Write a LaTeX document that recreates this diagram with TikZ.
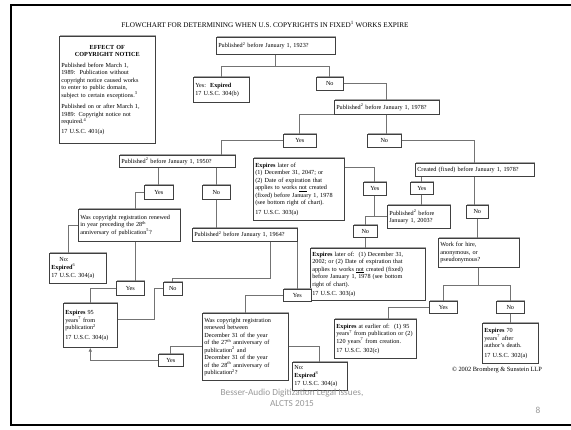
\documentclass[tikz,border=0pt]{standalone}
\usepackage{fontspec}
\setmainfont{Liberation Serif}
\newfontfamily\slidefont{Carlito}
\usepackage{tikz}
\usetikzlibrary{arrows.meta,calc,shadows}
\setlength{\parindent}{0pt}

\begin{document}
\begin{tikzpicture}[x=1pt,y=1pt,yscale=-1,xscale=1,
    box/.style={draw=black!75, line width=0.6pt, fill=white, anchor=north west, inner xsep=2pt, inner ysep=1pt, font=\fontsize{6.2}{7.5}\selectfont,
        drop shadow={shadow xshift=0.9pt, shadow yshift=0.9pt, fill=black!35, opacity=1}},
    txtbox/.style={box, align=left},
    yn/.style={box, inner sep=0pt, align=center},
    link/.style={draw=black!55, line width=0.9pt},
    slide/.style={text=black!40, font=\slidefont\fontsize{9.3}{11}\selectfont}]
    %page
    \fill[white] (0,0) rectangle (571,429);
    \useasboundingbox (0,0) rectangle (571,429);
    \draw[line width=2pt] (571,5) -- (11,5) -- (11,425) -- (571,425);

    \node (title) at (265,24) {\fontsize{7.2}{8}\selectfont FLOWCHART FOR DETERMINING WHEN U.S. COPYRIGHTS IN FIXED\textsuperscript{1} WORKS EXPIRE};

    %Boxes
    \node[box, text width=92, minimum height=107] (effect) at (59,36) {{\centering\bfseries EFFECT OF\\COPYRIGHT NOTICE\par}\vspace{3pt}\raggedright
    Published before March 1,\\1989:\ \ Publication without\\copyright notice caused works\\to enter to public domain,\\subject to certain exceptions.\textsuperscript{3}\par\vspace{4pt}
    Published on or after March 1,\\1989: Copyright notice not\\required.\textsuperscript{4}\par\vspace{2pt}
    17 U.S.C. 401(a)};
    \node[txtbox, text width=115, minimum height=17] (q1923) at (216,37) {Published\textsuperscript{2} before January 1, 1923?};
    \node[txtbox, text width=52, minimum height=25] (exp1923) at (193,77) {Yes:\ \ \textbf{Expired}\\[1pt]17 U.S.C. 304(b)};
    \node[yn, minimum width=27, minimum height=13] (no1923) at (316,77) {No};
    \node[txtbox, text width=101, minimum height=14] (q1978) at (334,100) {Published\textsuperscript{2} before January 1, 1978?};
    \node[yn, minimum width=33, minimum height=13] (yes1978) at (283,134) {Yes};
    \node[yn, minimum width=34, minimum height=13] (no1978) at (367,134) {No};
    \node[txtbox, text width=112, minimum height=12] (q1950) at (119,155) {Published\textsuperscript{2} before January 1, 1950?};
    \node[txtbox, text width=87, minimum height=62] (exp2047) at (253,158) {\textbf{Expires} later of\\(1) December 31, 2047; or\\(2) Date of expiration that\\applies to works \underline{not} created\\(fixed) before January 1, 1978\\(see bottom right of chart).\\[2pt]17 U.S.C. 303(a)};
    \node[txtbox, text width=115, minimum height=13] (qcreated) at (415,163) {Created (fixed) before January 1, 1978?};
    \node[yn, minimum width=29, minimum height=14] (yes1950) at (144,185) {Yes};
    \node[yn, minimum width=28, minimum height=14] (no1950) at (202,185) {No};
    \node[yn, minimum width=23, minimum height=13] (yes2003) at (363,182) {Yes};
    \node[yn, minimum width=23, minimum height=12] (yescreated) at (410,182) {Yes};
    \node[txtbox, text width=59, minimum height=23] (q2003) at (387,205) {Published\textsuperscript{2} before\\January 1, 2003?};
    \node[yn, minimum width=22, minimum height=13] (nocreated) at (466,205) {No};
    \node[txtbox, text width=98, minimum height=32] (qrenew28) at (78,209) {Was copyright registration renewed\\in year preceding the 28\textsuperscript{th}\\anniversary of publication\textsuperscript{5}?};
    \node[yn, minimum width=24, minimum height=12] (no2003) at (353,225) {No};
    \node[txtbox, text width=101, minimum height=13] (q1964) at (192,228) {Published\textsuperscript{2} before January 1, 1964?};
    \node[txtbox, text width=77, minimum height=29] (qwork) at (438,238) {Work for hire,\\anonymous, or\\pseudonymous?};
    \node[txtbox, text width=111, minimum height=52] (exp2002) at (310,248) {\textbf{Expires} later of:\ \ (1) December 31,\\2002; or (2) Date of expiration that\\applies to works \underline{not} created (fixed)\\before January 1, 1978 (see bottom\\right of chart).\\[2pt]17 U.S.C. 303(a)};
    \node[txtbox, text width=53, minimum height=30] (expl) at (49,253) {\hspace*{8pt}No:\\\textbf{Expired}\textsuperscript{6}\\[1pt]17 U.S.C. 304(a)};
    \node[yn, minimum width=28, minimum height=14] (yesrenew) at (116,281) {Yes};
    \node[yn, minimum width=19, minimum height=13] (no1964) at (163,282) {No};
    \node[yn, minimum width=28, minimum height=12] (yes1964) at (283,289) {Yes};
    \node[txtbox, text width=50, minimum height=44] (exp95) at (63,303) {\textbf{Expires} 95\\years\textsuperscript{7} from\\publication\textsuperscript{2}\\[2pt]17 U.S.C. 304(a)};
    \node[txtbox, text width=82, minimum height=67] (qrenew27) at (202,313) {Was copyright registration\\renewed between\\December 31 of the year\\of the 27\textsuperscript{th} anniversary of\\publication\textsuperscript{2} and\\December 31 of the year\\of the 28\textsuperscript{th} anniversary of\\publication\textsuperscript{2}?};
    \node[yn, minimum width=28, minimum height=12] (yeswork) at (429,301) {Yes};
    \node[yn, minimum width=28, minimum height=12] (nowork) at (496,301) {No};
    \node[txtbox, text width=78, minimum height=39] (exp120) at (334,319) {\textbf{Expires} at earlier of:\ \ (1) 95\\years\textsuperscript{7} from publication or (2)\\120 years\textsuperscript{7} from creation.\\[2pt]17 U.S.C. 302(c)};
    \node[txtbox, text width=52, minimum height=40] (exp70) at (482,323) {\textbf{Expires} 70\\years\textsuperscript{7} after\\author's death.\\[2pt]17 U.S.C. 302(a)};
    \node[yn, minimum width=25, minimum height=12] (yesrenew27) at (158,354) {Yes};
    \node[txtbox, text width=51, minimum height=28] (expr) at (292,362) {No:\\\textbf{Expired}\textsuperscript{8}\\[1pt]17 U.S.C. 304(a)};

    \node[font=\fontsize{6.4}{7.5}\selectfont] (credit) at (497,370) {\copyright{} 2002 Bromberg \& Sunstein LLP};
    \node[slide, align=center] (footer) at (292,398) {Besser-Audio Digitization Legal Issues,\\ALCTS 2015};
    \node[slide] (pagenum) at (538,410) {8};

    %Connectors
    \coordinate (b1923) at ($(q1923.south)+(0,12)$);
    \coordinate (r28) at ($(qrenew28.south)+(6,0)$);
    \draw[link] (q1923.south) -- (b1923);
    \draw[link] (exp1923.north) |- (b1923) -| (no1923.north);
    \draw[link] (no1923.east) -| (q1978.north);
    \draw[link] (q1978.south west) -| (yes1978.north);
    \draw[link] (q1978.south) -- (q1978.south |- no1978.north);
    \draw[link] (yes1978.west) -| ($(q1950.north east)+(-14,0)$);
    \draw[link] (no1978.east) -| (qcreated.north);
    \draw[link] (q1950.south -| yes1950.north) -- (yes1950.north);
    \draw[link] (q1950.south -| no1950.north) -- (no1950.north);
    \draw[link] (yes1950.west) -| (r28 |- qrenew28.north);
    \draw[link] (no1950.south) -- (no1950.south |- q1964.north);
    \draw[link] ($(q1964.south)+(26,0)$) |- ($(no1964.north)+(0,-4)$) -- (no1964.north);
    \draw[link] (q1964.south east) -- (q1964.south east |- yes1964.north);
    \draw[link] (qrenew28.west) -| ($(expl.north)+(-9,0)$);
    \draw[link] (r28) -- (r28 |- yesrenew.north);
    \draw[link] (yesrenew.west) -| (exp95.north);
    \draw[link] (no1964.west) -| ($(exp95.east)+(37,-6)$) -- ($(exp95.east)+(0,-6)$);
    \draw[link] (yes1964.west) -| (qrenew27.north);
    \draw[link] (qrenew27.east) -| (expr.north);
    \draw[link] (qrenew27.west) -| (yesrenew27.north);
    \draw[link, -{Latex[length=4pt,width=3.5pt]}] (yesrenew27.west) -| (exp95.south);
    \draw[link] ($(exp2047.north east)+(0,9)$) -| (yes2003.north);
    \draw[link] (yes2003.south) |- (q2003.west);
    \draw[link] (yes2003.south |- q2003.west) -| (no2003.north);
    \draw[link] (no2003.south) -- (no2003.south |- exp2002.north);
    \draw[link] (qcreated.south -| yescreated.north) -- (yescreated.north);
    \draw[link] (yescreated.south) -- (yescreated.south |- q2003.north);
    \draw[link] (qcreated.south) -- (qcreated.south |- nocreated.north);
    \draw[link] (nocreated.south) -- (nocreated.south |- qwork.north);
    \draw[link] (qwork.south) -- ++(0,18) coordinate (bwork);
    \draw[link] (yeswork.north) |- (bwork) -| (nowork.north);
    \draw[link] (yeswork.west) -| ($(exp120.north)+(13,0)$);
    \draw[link] (nowork.south) -- (exp70.north);
\end{tikzpicture}
\end{document}
